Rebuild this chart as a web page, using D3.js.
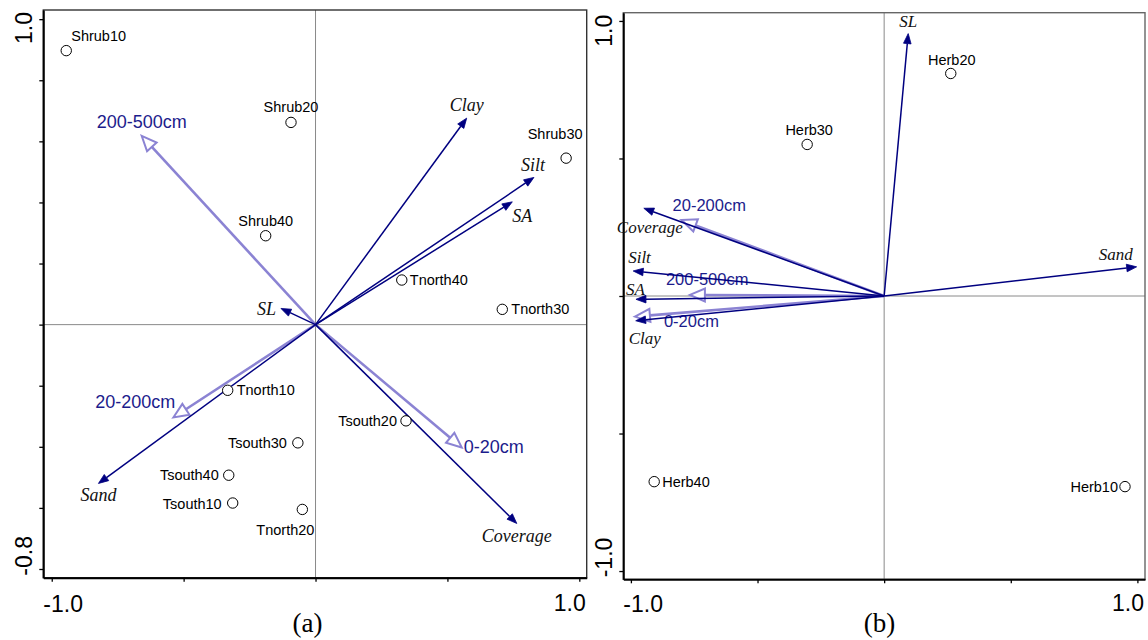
<!DOCTYPE html>
<html>
<head>
<meta charset="utf-8">
<script src="https://d3js.org/d3.v7.min.js"></script>
<style>
  body { margin: 0; background: #fff; }
  svg { display: block; }
</style>
</head>
<body>
<div id="chart"></div>
<script>
// ---- panel (a) data ----
var sitesA = ["Shrub10", "Shrub20", "Shrub40", "Shrub30", "Tnorth40", "Tnorth30",
              "Tnorth10", "Tsouth30", "Tsouth40", "Tsouth10", "Tnorth20", "Tsouth20"];
var siteXA = [-0.945, -0.093, -0.189, 0.950, 0.327, 0.708, -0.333, -0.067, -0.329, -0.314, -0.050, 0.343];
var siteYA = [0.897, 0.662, 0.291, 0.545, 0.146, 0.050, -0.215, -0.387, -0.493, -0.584, -0.605, -0.315];

var envA = ["Clay", "Silt", "SA", "SL", "Sand", "Coverage"];
var envXA = [0.573, 0.828, 0.746, -0.131, -0.823, 0.763];
var envYA = [0.676, 0.482, 0.402, 0.053, -0.520, -0.651];

var depthA = ["200-500cm", "20-200cm", "0-20cm"];
var depthXA = [-0.659, -0.539, 0.554];
var depthYA = [0.618, -0.304, -0.402];

var yTicksA = [-0.8, -0.6, -0.4, -0.2, 0, 0.2, 0.4, 0.6, 0.8, 1.0];
var xTicksA = [-1, -0.5, 0, 0.5, 1];

// ---- panel (b) data ----
var sitesB = ["Herb20", "Herb30", "Herb40", "Herb10"];
var siteXB = [0.263, -0.304, -0.908, 0.951];
var siteYB = [0.809, 0.551, -0.675, -0.693];

var envB = ["SL", "Sand", "Coverage", "Silt", "SA", "Clay"];
var envXB = [0.095, 0.997, -0.949, -0.991, -0.980, -0.981];
var envYB = [0.954, 0.106, 0.319, 0.091, -0.012, -0.090];

var depthB = ["20-200cm", "200-500cm", "0-20cm"];
var depthXB = [-0.800, -0.767, -0.984];
var depthYB = [0.276, 0.004, -0.075];

var yTicksB = [-1, -0.5, 0, 0.5, 1];
var xTicksB = [-1, -0.5, 0, 0.5, 1];

// label placement (pixel offsets from the mark) [dx, dy, anchor]
var siteLabA = [[5, -10, "start"], [0, -10, "middle"], [0, -10, "middle"], [-11, -19, "middle"],
                [8, 5, "start"], [9, 5, "start"], [9, 5, "start"], [-11, 5, "end"],
                [-10, 5, "end"], [-11, 6, "end"], [-17, 26, "middle"], [-9, 5, "end"]];
var envLabA = [[0, -7, "middle"], [-1, -6, "middle"], [0, 20, "start"], [-5, 7, "end"],
               [0, 18, "middle"], [0, 19, "middle"]];
var depthLabA = [[0, -8, "middle"], [2, -9, "end"], [2, 6, "start"]];

var siteLabB = [[1, -8, "middle"], [2, -9, "middle"], [8, 5, "start"], [-7, 5, "end"]];
var envLabB = [[0, -7, "middle"], [-4, -7, "end"], [-27, 25, "start"], [-5, -8, "start"],
               [-10, -4, "start"], [-7, 23, "start"]];
var depthLabB = [[-9, -9, "start"], [-24, -10, "start"], [29, 10, "start"]];

var svgWidth = 1148;
var svgHeight = 640;

var svg = d3.select("#chart")
  .append("svg")
  .attr("width", svgWidth)
  .attr("height", svgHeight);

var navy = "#000080";
var lilac = "#8b83d3";
var depthText = "#1c1c8c";
var sans = "'Liberation Sans', Arial, sans-serif";
var serif = "'Liberation Serif', 'Times New Roman', serif";

// plain hyphen for negatives, like the original
var fmt = function(v) { return v.toFixed(1); };

function zip(names, xs, ys, labs) {
  return names.map(function(n, i) {
    return { name: n, x: xs[i], y: ys[i], dx: labs[i][0], dy: labs[i][1], anchor: labs[i][2] };
  });
}

// arrow drawn in pixel space: shaft + triangular head
function headPoints(x0, y0, x1, y1, len, half) {
  var dx = x1 - x0, dy = y1 - y0;
  var d = Math.sqrt(dx * dx + dy * dy);
  var ux = dx / d, uy = dy / d;
  var bx = x1 - len * ux, by = y1 - len * uy;
  return {
    base: [bx, by],
    pts: [[x1, y1], [bx - half * uy, by + half * ux], [bx + half * uy, by - half * ux]]
  };
}

function drawPanel(p) {
  var x = d3.scaleLinear().domain(p.xDomain).range([p.left, p.right]);
  var y = d3.scaleLinear().domain(p.yDomain).range([p.bottom, p.top]);
  var g = svg.append("g");

  // zero lines
  g.append("line")
    .attr("x1", p.left).attr("x2", p.right)
    .attr("y1", y(0)).attr("y2", y(0))
    .attr("stroke", "#8a8a8a").attr("stroke-width", 1);
  g.append("line")
    .attr("x1", x(0)).attr("x2", x(0))
    .attr("y1", p.top).attr("y2", p.bottom)
    .attr("stroke", "#8a8a8a").attr("stroke-width", 1);

  // frame (top / right)
  g.append("rect")
    .attr("x", p.left).attr("y", p.top)
    .attr("width", p.right - p.left).attr("height", p.bottom - p.top)
    .attr("fill", "none").attr("stroke", p.frame).attr("stroke-width", 1.4);

  // axes
  var leftAxis = d3.axisLeft(y).tickValues(p.yTicks).tickSize(4).tickSizeOuter(0).tickFormat("");
  var bottomAxis = d3.axisBottom(x).tickValues(p.xTicks).tickSize(4).tickSizeOuter(0).tickFormat("");

  g.append("g")
    .attr("transform", "translate(" + p.left + ",0)")
    .call(leftAxis)
    .call(function(a) {
      a.select(".domain").attr("stroke", "#000").attr("stroke-width", 2);
      a.selectAll(".tick line").attr("stroke", "#000").attr("stroke-width", 1.3);
    });
  g.append("g")
    .attr("transform", "translate(0," + p.bottom + ")")
    .call(bottomAxis)
    .call(function(a) {
      a.select(".domain").attr("stroke", "#000").attr("stroke-width", 2);
      a.selectAll(".tick line").attr("stroke", "#000").attr("stroke-width", 1.3);
    });

  // end tick labels, kept inside the frame
  var yLo = p.yTicks[0], yHi = p.yTicks[p.yTicks.length - 1];
  var xLo = p.xTicks[0], xHi = p.xTicks[p.xTicks.length - 1];
  g.append("text")
    .attr("transform", "translate(" + (p.left - 11.6) + "," + (p.top + 2) + ") rotate(-90)")
    .attr("text-anchor", "end")
    .style("font-family", sans).style("font-size", "23px")
    .text(fmt(yHi));
  g.append("text")
    .attr("transform", "translate(" + (p.left - 11.6) + "," + (p.bottom - 2) + ") rotate(-90)")
    .attr("text-anchor", "start")
    .style("font-family", sans).style("font-size", "23px")
    .text(fmt(yLo));
  g.append("text")
    .attr("x", p.left).attr("y", 612)
    .attr("text-anchor", "start")
    .style("font-family", sans).style("font-size", "23px")
    .text(fmt(xLo));
  g.append("text")
    .attr("x", p.right - 1).attr("y", 611)
    .attr("text-anchor", "end")
    .style("font-family", sans).style("font-size", "23px")
    .text(fmt(xHi));

  // panel label
  g.append("text")
    .attr("x", p.tagX).attr("y", 632)
    .attr("text-anchor", "middle")
    .style("font-family", serif).style("font-size", "27px")
    .text(p.tag);

  var ox = x(0), oy = y(0);

  // depth arrows (open heads)
  var depth = p.depth;
  depth.forEach(function(d) {
    var tx = x(d.x), ty = y(d.y);
    var h = headPoints(ox, oy, tx, ty, 15, 6.5);
    g.append("line")
      .attr("x1", ox).attr("y1", oy)
      .attr("x2", h.base[0]).attr("y2", h.base[1])
      .attr("stroke", lilac).attr("stroke-width", 2.6);
    g.append("polygon")
      .attr("points", h.pts.map(function(q) { return q.join(","); }).join(" "))
      .attr("fill", "#fff").attr("stroke", lilac).attr("stroke-width", 2)
      .attr("stroke-linejoin", "miter");
  });
  g.selectAll(".depthLabel")
    .data(depth)
    .enter()
    .append("text")
    .attr("x", function(d) { return x(d.x) + d.dx; })
    .attr("y", function(d) { return y(d.y) + d.dy; })
    .attr("text-anchor", function(d) { return d.anchor; })
    .style("font-family", sans)
    .style("font-size", p.depthSize + "px")
    .style("fill", depthText)
    .text(function(d) { return d.name; });

  // environmental arrows (filled heads)
  p.env.forEach(function(d) {
    var tx = x(d.x), ty = y(d.y);
    var h = headPoints(ox, oy, tx, ty, 10, 3.8);
    g.append("line")
      .attr("x1", ox).attr("y1", oy)
      .attr("x2", h.base[0]).attr("y2", h.base[1])
      .attr("stroke", navy).attr("stroke-width", 1.5);
    g.append("polygon")
      .attr("points", h.pts.map(function(q) { return q.join(","); }).join(" "))
      .attr("fill", navy).attr("stroke", navy).attr("stroke-width", 0.8);
  });
  g.selectAll(".envLabel")
    .data(p.env)
    .enter()
    .append("text")
    .attr("x", function(d) { return x(d.x) + d.dx; })
    .attr("y", function(d) { return y(d.y) + d.dy; })
    .attr("text-anchor", function(d) { return d.anchor; })
    .style("font-family", serif)
    .style("font-style", "italic")
    .style("font-size", p.envSize + "px")
    .style("fill", "#111")
    .text(function(d) { return d.name; });

  // sites
  g.selectAll(".site")
    .data(p.sites)
    .enter()
    .append("circle")
    .attr("cx", function(d) { return x(d.x); })
    .attr("cy", function(d) { return y(d.y); })
    .attr("r", 5.2)
    .attr("fill", "#fff")
    .attr("stroke", "#000")
    .attr("stroke-width", 1);
  g.selectAll(".siteLabel")
    .data(p.sites)
    .enter()
    .append("text")
    .attr("x", function(d) { return x(d.x) + d.dx; })
    .attr("y", function(d) { return y(d.y) + d.dy; })
    .attr("text-anchor", function(d) { return d.anchor; })
    .style("font-family", sans)
    .style("font-size", "14.5px")
    .style("fill", "#000")
    .text(function(d) { return d.name; });
}

drawPanel({
  left: 43.3, right: 586.7, top: 10, bottom: 577.7,
  xDomain: [-1.032, 1.028], yDomain: [-0.8285, 1.030],
  xTicks: xTicksA, yTicks: yTicksA,
  sites: zip(sitesA, siteXA, siteYA, siteLabA),
  env: zip(envA, envXA, envYA, envLabA),
  depth: zip(depthA, depthXA, depthYA, depthLabA),
  envSize: 18, depthSize: 18, frame: "#333",
  tag: "(a)", tagX: 307.5
});

drawPanel({
  left: 623.3, right: 1145, top: 12.7, bottom: 579.3,
  xDomain: [-1.03, 1.03], yDomain: [-1.03, 1.03],
  xTicks: xTicksB, yTicks: yTicksB,
  sites: zip(sitesB, siteXB, siteYB, siteLabB),
  env: zip(envB, envXB, envYB, envLabB),
  depth: zip(depthB, depthXB, depthYB, depthLabB),
  envSize: 17, depthSize: 16.5, frame: "#666",
  tag: "(b)", tagX: 879.5
});
</script>
</body>
</html>
